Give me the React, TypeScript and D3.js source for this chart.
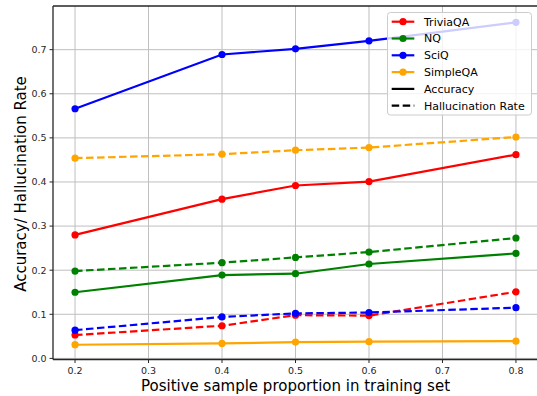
import React from "react";
import * as d3 from "d3";

const proportions = [0.2, 0.4, 0.5, 0.6, 0.8];
const datasets = ["TriviaQA", "NQ", "SciQ", "SimpleQA"];
const colors = ["#ff0000", "#008000", "#0000ff", "#ffa500"];
const accuracy = [
  [0.28, 0.361, 0.392, 0.401, 0.462],
  [0.15, 0.189, 0.192, 0.214, 0.238],
  [0.566, 0.689, 0.702, 0.72, 0.762],
  [0.031, 0.034, 0.037, 0.038, 0.039],
];
const hallucination = [
  [0.053, 0.074, 0.098, 0.097, 0.151],
  [0.198, 0.217, 0.229, 0.241, 0.273],
  [0.064, 0.094, 0.102, 0.104, 0.115],
  [0.454, 0.463, 0.472, 0.478, 0.502],
];
const xTicks = [0.2, 0.3, 0.4, 0.5, 0.6, 0.7, 0.8];
const yTicks = [0.0, 0.1, 0.2, 0.3, 0.4, 0.5, 0.6, 0.7];
const metricLabels = ["Accuracy", "Hallucination Rate"];

const W = 537, H = 396;
const left = 53, right = 538, top = 6, bottom = 359.5;
const font = "DejaVu Sans, sans-serif";

export default function App() {
  const x = d3.scaleLinear().domain([0.17, 0.83]).range([left, right]);
  const y = d3.scaleLinear().domain([-0.0025, 0.799]).range([bottom, top]);
  const line = d3.line<number>().x((_, i) => x(proportions[i])).y((d) => y(d));

  const series: { vals: number[]; color: string; dashed: boolean; key: string }[] = [];
  datasets.forEach((name, i) => {
    series.push({ vals: accuracy[i], color: colors[i], dashed: false, key: name + "a" });
    series.push({ vals: hallucination[i], color: colors[i], dashed: true, key: name + "h" });
  });

  const lgX = 387.5, lgY = 12.5, lgW = 144, lgH = 102.5;
  const rowH = 16.8;
  const legendItems = [
    ...datasets.map((d, i) => ({ label: d, color: colors[i], dash: false, marker: true })),
    { label: metricLabels[0], color: "#000", dash: false, marker: false },
    { label: metricLabels[1], color: "#000", dash: true, marker: false },
  ];

  return (
    <svg width={W} height={H} style={{ position: "absolute", left: 0, top: 0, background: "#fff" }} fontFamily={font}>
      <defs>
        <clipPath id="plotclip">
          <rect x={left} y={top} width={right - left} height={bottom - top} />
        </clipPath>
      </defs>
      {/* grid */}
      <g stroke="#b0b0b0" strokeWidth={1} opacity={0.8}>
        {xTicks.map((t) => (
          <line key={"gx" + t} x1={x(t)} x2={x(t)} y1={top} y2={bottom} />
        ))}
        {yTicks.map((t) => (
          <line key={"gy" + t} x1={left} x2={right} y1={y(t)} y2={y(t)} />
        ))}
      </g>
      {/* series */}
      <g clipPath="url(#plotclip)">
        {series.map((s) => (
          <g key={s.key}>
            <path
              d={line(s.vals) || ""}
              fill="none"
              stroke={s.color}
              strokeWidth={2.2}
              strokeDasharray={s.dashed ? "7.5,3.5" : undefined}
            />
            {s.vals.map((v, i) => (
              <circle key={i} cx={x(proportions[i])} cy={y(v)} r={3.6} fill={s.color} />
            ))}
          </g>
        ))}
      </g>
      {/* spines */}
      <g stroke="#262626" strokeWidth={1.3} fill="none">
        <line x1={left} x2={left} y1={top} y2={bottom} />
        <line x1={left} x2={right} y1={top} y2={top} />
        <line x1={left} x2={right} y1={bottom} y2={bottom} />
        <line x1={right} x2={right} y1={top} y2={bottom} />
      </g>
      {/* ticks */}
      <g fontSize={9.5} fill="#262626">
        {xTicks.map((t) => (
          <g key={"tx" + t}>
            <line x1={x(t)} x2={x(t)} y1={bottom} y2={bottom + 3.5} stroke="#262626" strokeWidth={1} />
            <text x={x(t)} y={bottom + 11.5} dy="0.35em" textAnchor="middle">{t.toFixed(1)}</text>
          </g>
        ))}
        {yTicks.map((t) => (
          <g key={"ty" + t}>
            <line x1={left - 3.5} x2={left} y1={y(t)} y2={y(t)} stroke="#262626" strokeWidth={1} />
            <text x={left - 6.5} y={y(t)} dy="0.35em" textAnchor="end">{t.toFixed(1)}</text>
          </g>
        ))}
      </g>
      {/* axis labels */}
      <text x={(140 + 451) / 2} y={391} textAnchor="middle" fontSize={15} fill="#000">
        Positive sample proportion in training set
      </text>
      <text
        transform={`translate(${25.5},${184}) rotate(-90)`}
        x={0}
        y={0}
        textAnchor="middle"
        fontSize={15}
        fill="#000"
      >
        Accuracy/ Hallucination Rate
      </text>
      {/* legend */}
      <g>
        <rect x={lgX} y={lgY} width={lgW} height={lgH} rx={3} fill="#fff" fillOpacity={0.8} stroke="#cccccc" strokeWidth={1} />
        {legendItems.map((it, i) => {
          const cy = 21.7 + i * rowH;
          return (
            <g key={it.label}>
              <line
                x1={391.7}
                x2={414.3}
                y1={cy}
                y2={cy}
                stroke={it.color}
                strokeWidth={2.2}
                strokeDasharray={it.dash ? "7.5,3.5" : undefined}
              />
              {it.marker && <circle cx={403} cy={cy} r={3.6} fill={it.color} />}
              <text x={424} y={cy} dy="0.35em" fontSize={11} fill="#000">{it.label}</text>
            </g>
          );
        })}
      </g>
    </svg>
  );
}
